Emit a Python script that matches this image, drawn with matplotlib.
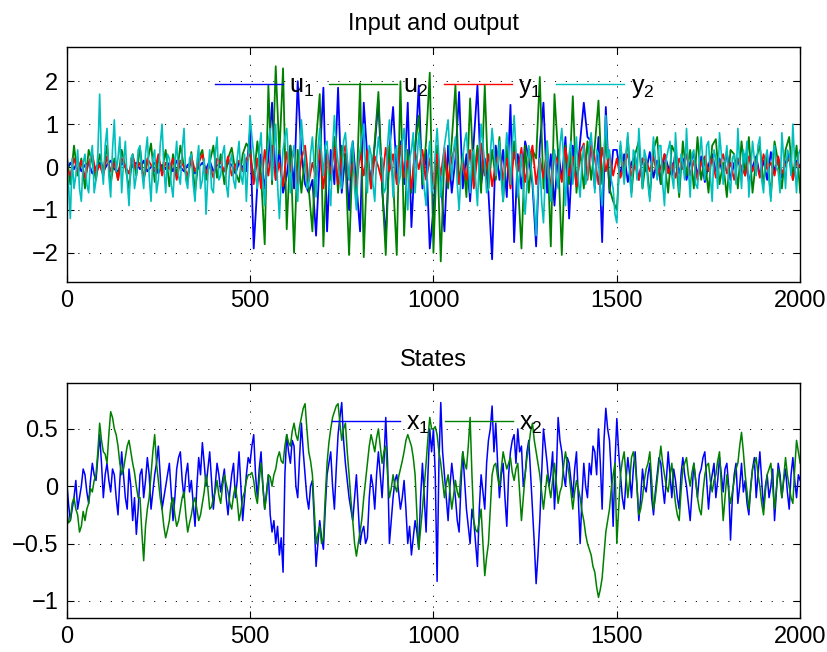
import numpy as np
import matplotlib.pyplot as plt

# inputs and y1 sampled every 10 steps, y2 / states every 5 steps
u1 = [-0.1, 0.1, -0.05, 0.15, -0.1, 0.05, 0.1, -0.15, 0.0, 0.1,
      -0.1, 0.05, 0.15, -0.05, -0.1, 0.1, 0.0, -0.15, 0.05, 0.1,
      -0.05, 0.15, -0.1, 0.0, 0.1, -0.15, 0.05, -0.05, 0.1, -0.1,
      0.15, 0.0, -0.1, 0.05, 0.1, -0.15, 0.0, 0.1, -0.05, 0.15,
      -0.1, 0.05, 0.0, -0.1, 0.1, 0.05, -0.15, 0.1, 0.0, -0.1,
      0.85, -1.9, -0.4, 0.3, -0.5, 0.2, 1.5, -0.3, 0.4, -0.6,
      -0.2, 0.5, -0.5, 2.0, 0.3, -0.4, -0.6, -0.3, -1.6, 0.2,
      1.85, -1.5, 0.4, -0.4, 1.85, -0.6, 0.3, -1.0, 0.6, -0.4,
      -1.5, 1.5, 0.2, -0.3, 0.5, 1.55, -0.5, -1.65, 0.4, 1.4,
      -0.2, 0.6, -0.4, 1.5, -1.4, 0.3, 1.9, -0.5, 0.4, -1.9,
      -1.0, 0.4, -0.3, -1.5, 0.5, -0.6, 0.2, 1.75, -0.5, 0.3,
      -0.8, 0.6, 1.9, -0.4, 0.2, -0.6, -2.15, 0.5, -0.3, 0.4,
      -0.7, 1.45, -1.75, 0.3, -0.5, 0.6, 0.2, -0.4, -1.85, 0.5,
      1.5, -0.6, 0.3, -0.9, 0.4, -0.3, 0.7, -1.2, 0.5, -0.4,
      0.6, 1.5, 0.7, 0.6, -0.5, 0.7, -1.75, 1.4, -0.6, 0.4,
      0.4, -0.2, 0.3, -0.35, 0.1, 0.25, -0.3, 0.2, -0.1, 0.35,
      -0.25, 0.15, -0.4, 0.3, 0.0, -0.2, 0.35, -0.15, 0.2, -0.3,
      0.1, 0.3, -0.2, 0.25, -0.35, 0.05, 0.3, -0.1, 0.2, -0.25,
      0.35, -0.3, 0.1, 0.2, -0.15, 0.3, -0.35, 0.0, 0.25, -0.2,
      0.15, -0.3, 0.35, -0.1, 0.2, -0.25, 0.1, 0.3, -0.2, 0.15, 0.0]

u2 = [0.3, -0.4, 0.5, -0.2, 0.2, -0.5, 0.4, 0.1, -0.3, 0.3,
      -0.1, 0.5, -0.4, 0.2, -0.3, 0.4, 0.0, -0.5, 0.3, -0.2,
      0.45, -0.3, 0.1, 0.55, -0.35, 0.2, -0.1, 0.4, -0.45, 0.3,
      -0.2, 0.5, 0.0, -0.35, 0.35, -0.6, 0.2, 0.4, -0.3, 0.1,
      0.5, -0.25, 0.3, -0.4, 0.2, 0.45, -0.1, -0.35, 0.3, 0.55,
      0.4, -0.3, 0.6, -0.2, -1.8, 1.9, -0.4, 2.35, 0.3, 2.3,
      -1.45, 0.5, -2.0, 0.4, -0.6, 0.3, -0.5, -1.5, 0.6, 1.7,
      -1.85, 0.4, -0.3, 0.7, -0.6, 0.5, 0.2, -2.05, 0.4, -0.7,
      1.95, -2.1, 0.3, -0.5, 0.6, 1.75, -0.4, -2.05, 0.5, -0.3,
      -2.05, 2.0, -1.6, 0.4, -0.6, 0.5, 1.2, -0.4, 0.6, 2.2,
      -2.0, 0.5, -2.2, 0.3, -0.5, 0.6, 1.9, -0.4, 0.3, -0.7,
      1.6, -0.3, 0.5, -0.6, 1.9, -0.5, 0.4, -0.3, 0.7, -0.8,
      0.5, -0.4, 0.6, -0.3, -1.9, 0.5, -0.6, 0.4, 0.2, 2.1,
      -0.5, 0.6, -1.85, 1.7, 0.3, -2.05, 0.5, -0.4, 1.65, -0.6,
      0.4, -0.5, 0.6, -0.3, 0.5, 1.55, -0.4, 0.7, -0.5, -0.8,
      -1.0, 0.5, -0.3, 0.7, -0.6, 0.3, 0.6, -0.5, 0.2, -0.7,
      0.4, 0.7, -0.4, 0.1, -0.6, 0.5, 0.3, -0.7, 0.6, -0.2,
      0.4, -0.5, 0.7, -0.3, 0.2, -0.6, 0.5, 0.65, -0.4, 0.1,
      -0.7, 0.4, 0.3, -0.5, 0.6, -0.2, 0.7, -0.6, 0.2, 0.5,
      -0.4, 0.3, -0.7, 0.6, 0.1, -0.5, 0.4, 0.7, -0.3, 0.5, -0.6]

y1 = [0.0, -0.2, 0.2, -0.1, 0.15, -0.25, 0.1, 0.3, -0.15, 0.05,
      -0.2, 0.25, -0.1, 0.1, -0.3, 0.2, 0.0, -0.15, 0.25, -0.05,
      0.1, -0.25, 0.2, 0.05, -0.1, 0.3, -0.2, 0.1, -0.05, 0.2,
      -0.3, 0.15, 0.0, -0.2, 0.25, -0.1, 0.1, 0.3, -0.15, 0.05,
      -0.25, 0.2, 0.1, -0.1, 0.25, -0.2, 0.05, 0.15, -0.1, 0.2,
      0.3, -0.4, 0.2, -0.5, 0.4, -0.2, 0.5, -0.3, 0.1, -0.45,
      0.35, -0.1, 0.45, -0.5, 0.2, 0.5, -0.35, 0.1, -0.25, 0.4,
      -0.5, 0.3, -0.15, 0.45, -0.4, 0.2, 0.5, -0.3, 0.1, -0.45,
      0.35, -0.2, 0.4, -0.5, 0.25, 0.0, -0.35, 0.45, -0.1, 0.3,
      -0.4, 0.5, -0.25, 0.15, -0.5, 0.35, -0.05, 0.4, -0.3, 0.2,
      -0.5, 0.3, -0.2, 0.45, -0.35, 0.2, 0.5, -0.4, 0.1, -0.3,
      0.4, -0.5, 0.25, 0.55, -0.2, 0.3, -0.45, 0.1, 0.4, -0.3,
      0.2, -0.5, 0.35, -0.1, 0.45, -0.35, 0.15, 0.5, -0.4, 0.2,
      -0.25, 0.4, -0.5, 0.3, 0.1, -0.35, 0.45, -0.2, 0.25, -0.45,
      0.35, 0.55, -0.3, 0.5, 0.2, -0.4, 0.45, -0.1, 0.3, -0.2,
      0.2, -0.25, 0.1, 0.3, -0.2, 0.05, -0.3, 0.2, 0.15, -0.1,
      0.25, -0.2, 0.0, 0.3, -0.15, 0.1, -0.25, 0.2, -0.05, 0.3,
      -0.2, 0.15, -0.3, 0.1, 0.25, -0.1, 0.2, -0.25, 0.05, 0.3,
      -0.15, 0.1, -0.3, 0.2, 0.0, -0.2, 0.25, -0.1, 0.15, -0.25,
      0.3, -0.05, 0.1, -0.2, 0.25, -0.15, 0.05, 0.2, -0.3, 0.1, 0.0]

y2 = [0.1, -0.4, -1.2, 0.2, -0.5, -0.2, 0.4, -0.5, -0.8, 0.1, 0.3, -0.4, -0.6, 0.2, 0.5, -0.6, -0.3, 0.3, 1.7, 0.1,
      -0.4, 0.5, 0.9, -0.2, -0.7, 0.4, 1.1, -0.1, 0.2, 0.7, -0.6, 0.1, 0.6, -0.3, -0.9, 0.2, 0.3, -0.5, -0.2, 0.4,
      0.5, -0.1, -0.5, 0.3, 0.7, -0.2, -0.8, 0.2, 0.4, -0.6, -0.3, 0.5, 1.0, 0.0, -0.6, 0.3, 0.2, -0.4, -0.7, 0.1,
      0.6, -0.2, -0.4, 0.4, 0.9, -0.3, -0.5, 0.2, 0.3, -0.4, -0.8, 0.1, 0.5, -0.5, -0.3, 0.2, -1.1, -0.2, 0.4, -0.5,
      -0.6, 0.3, 0.7, -0.3, -0.2, 0.3, 0.5, -0.4, -0.7, 0.1, 0.3, -0.3, -0.5, 0.2, 0.6, -0.2, -0.4, 0.3, -0.8, 0.2,
      1.2, 0.7, 0.3, -0.2, -0.5, 0.4, 0.8, -0.3, -0.9, 0.1, 0.6, 0.9, -0.3, 0.4, 1.0, -0.4, -1.2, -0.3, 0.4, 0.7,
      0.9, 0.1, -0.6, 0.2, 0.5, -0.2, -0.8, 0.3, 1.1, 0.5, 0.2, -0.5, -0.4, 0.3, 0.7, 0.0, -0.7, 0.4, 0.9, 0.3,
      -0.2, 0.5, 0.6, -0.4, -0.9, 0.4, 1.2, 0.5, 0.1, -0.3, -0.5, 0.6, 0.8, 0.2, -0.3, 0.4, 0.6, -0.5, -1.0, 0.1,
      0.4, 0.7, 1.0, -0.1, -0.6, 0.5, 0.3, -0.4, -0.8, 0.2, 0.7, 0.3, 0.2, -0.6, -0.5, 0.5, 1.1, 0.2, -0.7, 0.3,
      0.5, -0.4, -0.2, 0.6, 0.9, -0.3, -1.0, 0.2, 0.4, 0.8, -0.6, 0.1, 0.8, 0.4, 0.0, -0.5, -0.9, 0.2, 0.6, -0.6,
      -0.4, 0.3, 0.9, 0.2, -0.7, -0.1, 0.5, 0.8, 1.1, 0.2, -0.3, 0.4, 0.7, -0.4, -1.0, -0.2, 0.2, 0.6, 0.8, 0.1,
      -0.6, 0.3, 0.4, -0.3, -0.9, 0.2, 1.0, 0.5, 0.1, -0.6, -0.5, 0.3, 0.9, 0.4, -0.2, 0.1, 0.6, -0.3, -0.8, 0.2,
      0.8, 0.3, -0.4, 0.5, 1.2, 0.4, -0.7, -0.2, 0.3, -0.5, -1.1, -0.4, 0.5, 0.1, -0.3, -0.9, -1.6, -0.5, 0.2, -0.8,
      -1.3, -0.2, 0.6, -0.3, -0.8, 0.1, 0.4, -0.2, -0.5, 0.5, 0.9, 0.2, -0.9, -0.1, 0.3, 0.6, -0.4, 0.1, 0.7, -0.3,
      -0.7, 0.1, 0.5, -0.4, -0.2, 0.5, 0.8, 0.1, -0.6, 0.4, 0.3, -0.5, -0.9, 0.3, 1.2, 0.2, 0.4, -0.3, -0.5, -1.1,
      -1.3, -0.2, 0.6, 0.1, -0.4, 0.3, 0.8, -0.2, -0.7, 0.4, 0.3, -0.3, 0.9, 0.2, -0.5, 0.4, 0.2, -0.4, -0.8, 0.1,
      0.7, 0.2, -0.3, 0.5, 0.5, -0.4, -0.9, 0.2, 0.4, 0.6, -0.2, -0.5, 0.8, 0.1, -0.6, 0.3, 0.1, -0.3, 0.9, 0.0,
      -0.7, 0.3, 0.4, -0.4, -0.5, 0.2, 0.7, 0.1, -0.3, 0.5, 0.6, -0.2, -0.8, 0.4, 0.2, -0.5, 0.8, 0.3, -0.4, 0.1,
      0.5, -0.3, -0.6, 0.2, 0.3, -0.4, 0.9, 0.1, -0.5, 0.4, 0.1, 0.6, -0.7, -0.1, 0.6, 0.2, -0.2, 0.5, 0.7, -0.3,
      -0.6, 0.2, 0.4, -0.3, -0.8, 0.3, 0.5, 0.0, -0.1, -0.6, 0.8, 0.2, -0.5, 0.4, 0.3, -0.2, 1.0, 0.1, -0.6, 0.3,
      0.4]

x1 = [0.05, -0.15, -0.3, -0.2, -0.1, 0.05, -0.2, -0.1, 0.0, 0.15, 0.1, -0.05, -0.15, 0.05, 0.2, 0.1, 0.05, 0.25, 0.45, 0.2,
      -0.1, 0.1, 0.2, 0.05, -0.05, 0.15, 0.1, -0.1, -0.25, 0.05, 0.3, 0.1, -0.1, -0.2, 0.15, 0.0, -0.3, -0.1, -0.42, -0.2,
      0.1, 0.15, -0.1, 0.05, 0.25, 0.1, -0.2, -0.05, 0.1, 0.2, 0.35, 0.1, -0.2, -0.1, 0.0, 0.1, 0.2, -0.05, -0.3, -0.1,
      0.15, 0.25, 0.3, 0.05, -0.1, 0.1, 0.2, -0.05, 0.05, -0.15, -0.35, 0.0, 0.25, 0.1, 0.38, 0.2, 0.0, 0.15, 0.3, 0.05,
      -0.2, 0.0, 0.2, 0.1, -0.05, 0.05, 0.15, -0.1, -0.25, -0.05, 0.1, 0.2, -0.1, 0.05, 0.3, 0.0, -0.3, -0.1, 0.1, 0.25,
      0.2, 0.35, 0.45, 0.1, -0.1, 0.15, 0.3, 0.0, -0.2, -0.05, 0.1, -0.25, -0.4, -0.3, -0.5, -0.35, -0.6, -0.45, -0.75, 0.1,
      0.45, 0.3, 0.2, 0.4, 0.35, 0.0, -0.1, 0.25, 0.55, 0.3, 0.1, -0.1, -0.2, 0.0, 0.05, -0.3, -0.7, -0.5, -0.3, -0.45,
      -0.55, -0.2, 0.1, 0.2, 0.3, 0.0, -0.2, 0.15, 0.45, 0.6, 0.73, 0.4, 0.2, 0.05, -0.1, -0.2, -0.3, -0.1, 0.1, -0.2,
      -0.5, -0.4, -0.35, -0.5, -0.45, -0.1, 0.1, 0.0, -0.2, 0.1, 0.3, 0.1, -0.1, 0.2, 0.6, 0.2, -0.5, -0.3, -0.1, 0.05,
      0.1, -0.05, -0.2, -0.1, 0.05, -0.2, -0.5, -0.35, -0.6, -0.45, -0.3, -0.4, -0.55, -0.1, 0.2, -0.1, -0.4, 0.1, 0.5, 0.3,
      0.5, 0.1, -0.83, 0.2, 0.73, 0.3, 0.1, -0.1, -0.3, 0.0, 0.2, 0.05, -0.1, -0.3, -0.4, 0.0, 0.3, 0.05, -0.2, -0.35,
      -0.5, -0.2, -0.3, -0.5, -0.7, -0.2, 0.1, -0.05, -0.2, 0.2, 0.4, 0.5, 0.7, 0.3, 0.55, 0.2, -0.1, 0.1, 0.2, -0.1,
      -0.35, 0.1, 0.3, 0.4, 0.45, 0.2, 0.5, 0.3, 0.35, 0.0, 0.1, 0.3, 0.4, 0.1, -0.2, -0.5, -0.85, -0.6, -0.3, 0.1,
      0.5, 0.35, 0.2, 0.0, 0.1, 0.3, -0.2, 0.1, 0.6, 0.4, 0.3, 0.1, 0.0, 0.25, 0.2, 0.05, -0.1, 0.15, 0.3, -0.1,
      -0.5, -0.1, 0.2, 0.0, -0.1, 0.2, 0.1, 0.35, 0.3, 0.1, 0.5, 0.2, -0.2, 0.4, 0.68, 0.5, 0.4, 0.1, -0.35, 0.2,
      0.59, 0.3, 0.1, -0.1, -0.2, 0.05, 0.25, 0.1, -0.1, 0.15, 0.3, 0.0, -0.3, -0.1, 0.15, 0.0, -0.05, 0.1, 0.2, -0.1,
      -0.25, -0.05, 0.1, 0.25, 0.2, 0.0, -0.15, 0.05, 0.3, 0.1, -0.1, 0.15, 0.05, -0.1, -0.2, 0.1, 0.25, 0.1, 0.0, -0.15,
      -0.3, -0.05, 0.2, 0.05, -0.1, 0.1, 0.15, 0.25, 0.3, 0.05, -0.2, 0.0, 0.1, 0.2, -0.1, 0.05, 0.25, 0.1, -0.05, 0.15,
      0.2, 0.0, -0.47, -0.1, 0.1, 0.2, -0.15, 0.0, 0.2, -0.05, 0.05, -0.15, -0.25, 0.0, 0.15, 0.25, -0.1, 0.1, 0.3, 0.05,
      -0.2, 0.0, 0.1, -0.1, 0.0, 0.15, -0.3, -0.05, 0.2, 0.1, -0.1, 0.05, 0.15, -0.05, -0.2, 0.1, 0.25, 0.05, -0.1, 0.1,
      0.05]

x2 = [-0.2, -0.32, -0.3, -0.15, -0.1, -0.2, -0.25, -0.4, -0.35, -0.22, -0.3, -0.2, -0.15, -0.02, -0.05, 0.05, 0.1, 0.3, 0.55, 0.4,
      0.3, 0.28, 0.2, 0.45, 0.65, 0.6, 0.5, 0.45, 0.35, 0.2, 0.1, 0.15, 0.25, 0.35, 0.4, 0.3, 0.2, 0.12, 0.0, -0.1,
      -0.1, -0.4, -0.65, -0.35, -0.2, -0.1, 0.1, 0.3, 0.45, 0.2, 0.05, -0.1, -0.2, -0.35, -0.45, -0.38, -0.3, -0.15, -0.1, -0.25,
      -0.35, -0.3, -0.2, -0.1, -0.05, -0.25, -0.4, -0.32, -0.25, -0.15, -0.1, -0.2, -0.3, -0.25, -0.15, -0.05, 0.1, -0.02, -0.2, -0.18,
      -0.1, -0.05, 0.05, -0.08, -0.15, 0.0, 0.1, 0.02, -0.05, -0.15, -0.2, -0.08, 0.0, -0.12, -0.3, -0.22, -0.1, -0.05, 0.05, 0.1,
      0.1, 0.12, 0.05, -0.08, -0.15, 0.05, 0.2, 0.0, -0.2, -0.08, 0.1, 0.08, 0.0, 0.1, 0.15, 0.25, 0.3, 0.22, 0.2, 0.35,
      0.45, 0.38, 0.35, 0.48, 0.55, 0.45, 0.4, 0.52, 0.6, 0.68, 0.72, 0.5, 0.3, 0.22, 0.1, -0.2, -0.5, -0.42, -0.35, -0.5,
      -0.45, -0.1, 0.2, 0.38, 0.5, 0.6, 0.65, 0.7, 0.72, 0.55, 0.4, 0.5, 0.55, 0.3, 0.1, -0.12, -0.3, -0.5, -0.61, -0.5,
      -0.4, -0.28, -0.1, 0.05, 0.2, 0.35, 0.45, 0.38, 0.3, 0.42, 0.5, 0.35, 0.2, 0.3, 0.35, 0.1, -0.1, -0.02, 0.1, 0.0,
      -0.05, 0.08, 0.15, 0.22, 0.3, 0.4, 0.45, 0.4, 0.35, 0.25, 0.1, -0.25, -0.55, -0.38, -0.2, 0.0, 0.2, 0.42, 0.6, 0.5,
      0.5, 0.52, 0.45, 0.3, 0.2, 0.05, -0.1, 0.02, 0.1, -0.05, -0.2, -0.08, 0.05, -0.05, -0.1, 0.12, 0.3, 0.2, 0.15, 0.35,
      0.6, 0.1, -0.3, -0.38, -0.4, -0.3, -0.2, -0.5, -0.78, -0.62, -0.5, -0.2, 0.1, 0.18, 0.2, 0.08, 0.0, 0.15, 0.3, 0.22,
      0.15, 0.2, 0.25, 0.12, 0.05, 0.15, 0.2, -0.05, -0.3, -0.1, 0.1, 0.25, 0.35, 0.48, 0.55, 0.4, 0.3, 0.2, 0.1, -0.05,
      -0.2, -0.05, 0.1, 0.0, -0.1, 0.05, 0.2, 0.02, -0.15, -0.05, 0.0, 0.18, 0.3, 0.2, 0.1, -0.05, -0.2, -0.05, 0.05, -0.02,
      -0.1, -0.22, -0.3, -0.42, -0.5, -0.55, -0.6, -0.7, -0.75, -0.88, -0.97, -0.9, -0.8, -0.6, -0.4, -0.3, -0.2, -0.02, 0.1, 0.2,
      -0.5, -0.2, 0.1, 0.22, 0.3, 0.1, -0.1, 0.05, 0.25, 0.3, 0.2, 0.0, -0.25, -0.2, -0.1, 0.05, 0.15, 0.2, 0.3, 0.05,
      -0.2, -0.1, 0.05, 0.2, 0.35, 0.2, 0.1, 0.0, -0.05, 0.1, 0.2, 0.0, -0.15, -0.25, -0.3, -0.05, 0.15, 0.2, 0.25, 0.1,
      0.0, 0.12, 0.2, 0.05, -0.1, -0.2, -0.25, -0.05, 0.1, 0.18, 0.2, 0.05, -0.05, 0.05, 0.1, 0.22, 0.3, 0.0, -0.3, -0.1,
      0.1, -0.05, -0.15, -0.05, 0.05, 0.15, 0.2, 0.35, 0.47, 0.3, 0.1, -0.05, -0.2, -0.02, 0.15, 0.2, 0.25, 0.1, 0.0, -0.15,
      -0.25, -0.05, 0.1, 0.15, 0.2, 0.0, -0.2, -0.02, 0.15, 0.05, -0.1, 0.08, 0.25, 0.1, 0.0, -0.1, -0.15, 0.15, 0.4, 0.3,
      0.2]

top_series = [(u1, 'u_1', (0, 0, 1), 1.3), (u2, 'u_2', (0, 0.5, 0), 1.3),
              (y1, 'y_1', (1, 0, 0), 1.3), (y2, 'y_2', (0, 0.75, 0.75), 1.2)]
bottom_series = [(x1, 'x_1', (0, 0, 1), 1.1), (x2, 'x_2', (0, 0.5, 0), 1.1)]

plt.rcParams['font.family'] = ['Liberation Sans', 'DejaVu Sans']
plt.rcParams['mathtext.fontset'] = 'custom'
plt.rcParams['mathtext.rm'] = 'Liberation Sans'
plt.rcParams['lines.scale_dashes'] = False

fig = plt.figure(figsize=(8.27, 6.52), dpi=100)
ax1 = fig.add_axes([0.0806, 0.5675, 0.887, 0.3605])
ax2 = fig.add_axes([0.0806, 0.0521, 0.887, 0.3604])


def style(ax, ylim, yticks, yticklabels, title):
    ax.set_xlim(0, 2000)
    ax.set_ylim(*ylim)
    ax.set_xticks([0, 500, 1000, 1500, 2000])
    ax.set_yticks(yticks)
    ax.set_yticklabels(yticklabels)
    ax.tick_params(direction='in', top=True, right=True, length=5,
                   width=0.8, labelsize=17, pad=6)
    ax.grid(True, color='k', linestyle=(0, (0.8, 7)), linewidth=0.7)
    for s in ax.spines.values():
        s.set_linewidth(1.0)
    ax.set_title(title, fontsize=17, pad=12)


for vals, lab, col, w in top_series:
    ax1.plot(np.linspace(0, 2000, len(vals)), vals, color=col, lw=w,
             label=r'$\mathregular{%s}$' % lab)
style(ax1, (-2.68, 2.8), [-2, -1, 0, 1, 2],
      ['\u22122', '\u22121', '0', '1', '2'], 'Input and output')
leg1 = ax1.legend(ncol=4, loc='center', bbox_to_anchor=(0.5016, 0.831),
                  frameon=False, fontsize=18, handlelength=2.72,
                  handletextpad=0.25, columnspacing=0.6, borderpad=0)
for h in leg1.get_lines():
    h.set_linewidth(1.0)

for vals, lab, col, w in bottom_series:
    ax2.plot(np.linspace(0, 2000, len(vals)), vals, color=col, lw=w,
             label=r'$\mathregular{%s}$' % lab)
style(ax2, (-1.15, 0.9), [-1, -0.5, 0, 0.5],
      ['\u22121', '\u22120.5', '0', '0.5'], 'States')
leg2 = ax2.legend(ncol=2, loc='center', bbox_to_anchor=(0.505, 0.83),
                  frameon=False, fontsize=18, handlelength=2.72,
                  handletextpad=0.25, columnspacing=0.6, borderpad=0)
for h in leg2.get_lines():
    h.set_linewidth(1.0)

fig.savefig('out.png', dpi=100)
